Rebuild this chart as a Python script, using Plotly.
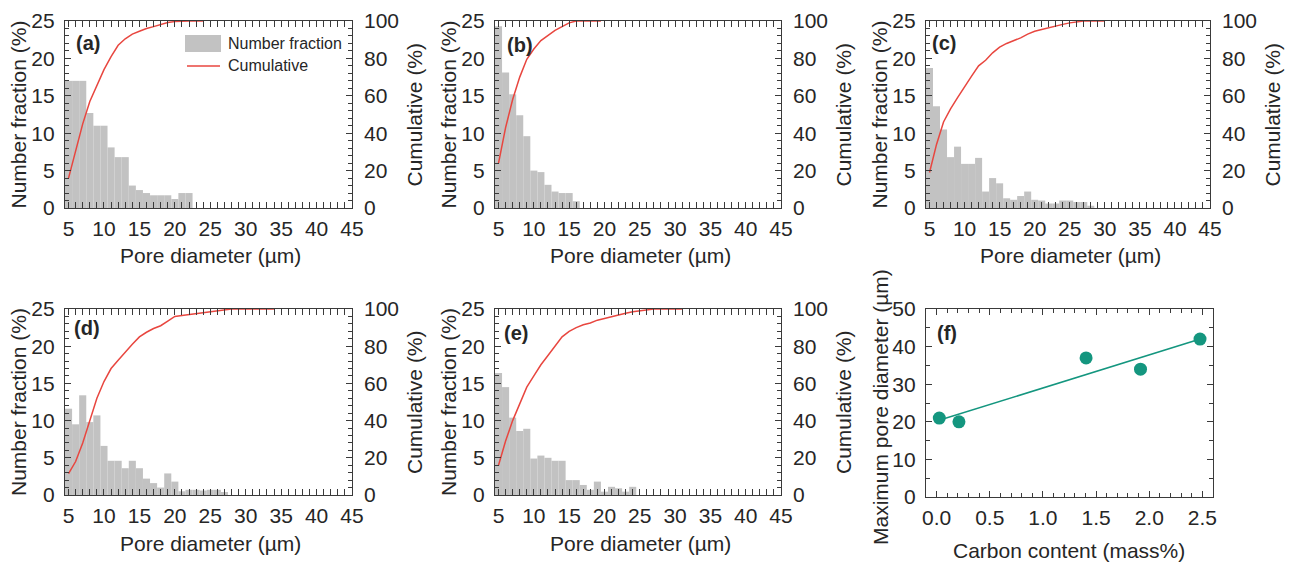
import plotly.graph_objects as go

# ---------------- data ----------------
# Number fraction (%) per 1-um bin, bins centred on 5, 6, 7, ... um
a_frac = [17.0, 17.0, 17.0, 12.7, 11.0, 11.0, 8.1, 6.8, 6.8, 3.0, 2.4, 2.0, 1.7, 1.7, 1.7, 1.2, 2.0, 2.0]
b_frac = [24.3, 18.1, 15.2, 12.4, 9.6, 5.0, 4.8, 3.1, 2.2, 2.0, 2.0, 0.9]
c_frac = [18.7, 13.6, 10.5, 6.8, 8.2, 5.9, 5.9, 6.7, 2.2, 4.0, 3.3, 1.3, 1.1, 1.6, 2.2, 1.1, 1.0,
          0.6, 0.6, 1.0, 1.0, 0.8, 0.8, 0.3]
d_frac = [11.6, 9.5, 13.4, 9.8, 10.7, 6.6, 4.6, 4.6, 3.6, 4.6, 3.6, 2.2, 1.6, 1.0, 2.9, 1.8,
          0.5, 0.7, 0.7, 0.6, 0.7, 0.7, 0.4]
e_frac = [16.4, 14.5, 10.4, 8.6, 8.9, 4.9, 5.3, 5.0, 4.6, 4.6, 2.0, 2.0, 1.35, 0.7, 1.8, 0.45,
          1.1, 0.9, 0.45, 1.1]

# Cumulative (%) curves, x positions in um
a_cum_x = [5, 6, 7, 8, 9, 10, 11, 12, 13, 14, 15, 16, 17, 18, 19, 20, 21, 22, 24]
a_cum = [16, 30, 45, 57, 66, 74, 81, 87, 90.5, 93, 94.5, 96, 97, 98.2, 99.2, 99.7, 100, 100, 100]
b_cum_x = [5, 6, 7, 8, 9, 10, 11, 12, 13, 14, 15, 16, 19.5]
b_cum = [24, 43, 58, 70, 79.5, 85, 89.5, 92.5, 95, 97, 99, 100, 100]
c_cum_x = [5, 6, 7, 8, 9, 10, 11, 12, 13, 14, 15, 16, 17, 18, 19, 20, 21, 22, 23, 24, 25, 26, 27, 30]
c_cum = [19, 34, 46, 53, 59, 65, 70.5, 76, 79, 83, 86, 88, 89.5, 91, 93, 94.5, 95.5, 96.5, 97.3,
         98.2, 99, 99.6, 100, 100]
d_cum_x = [5, 6, 7, 8, 9, 10, 11, 12, 13, 14, 15, 16, 17, 18, 19, 20, 21, 22, 23, 24, 25, 26, 27, 28, 34]
d_cum = [11.5, 18, 28, 40, 52, 61, 68, 72.5, 77, 81, 85, 87.5, 89.5, 91, 93.5, 96, 96.5, 97, 97.5,
         98, 98.7, 99.2, 99.6, 100, 100]
e_cum_x = [5, 6, 7, 8, 9, 10, 11, 12, 13, 14, 15, 16, 17, 18, 19, 20, 21, 22, 23, 24, 25, 26, 27, 31]
e_cum = [16, 29, 40, 49, 58, 64, 70, 75, 80, 85, 88, 90, 91.5, 92.5, 94, 95, 96, 97, 97.7, 98.5,
         99, 99.5, 100, 100]

# Panel (f)
carbon = [0.025, 0.21, 1.406, 1.918, 2.478]
max_pore = [21.0, 20.0, 37.0, 34.0, 42.0]
fit_x = [0.0, 2.48]
fit_y = [20.2, 42.0]

panel_labels = ["(a)", "(b)", "(c)", "(d)", "(e)", "(f)"]

# ---------------- styling ----------------
W, H = 1293, 564
OFF = 8  # page body margin: window pixel -> figure pixel
GREY = "#c2c2c2"
RED = "#e8463f"
TEAL = "#14967f"
FRAME = "#3a3a3a"
TXT = "#262626"
FONT = "Liberation Sans, Arial, sans-serif"
FS = 21

# frames in window pixels: left, right, top, bottom
frames = [
    (65, 352, 21, 208),
    (495, 781, 21, 208),
    (926, 1210, 21, 208),
    (65, 352, 309, 495),
    (495, 781, 309, 495),
    (926, 1213, 309, 497),
]


def px(x):
    return (x - OFF) / W


def py(y):
    return 1 - (y - OFF) / H


def dx(l, r):
    return [px(l), px(r)]


def dy(t, b):
    return [py(b), py(t)]


common = dict(
    showline=True, linecolor=FRAME, linewidth=1.3, mirror="allticks", automargin=False,
    showgrid=False, zeroline=False, ticks="inside", ticklen=6, tickwidth=1.2,
    tickcolor=FRAME, tickfont=dict(family=FONT, size=FS, color=TXT),
)

fig = go.Figure()
layout = dict(
    width=W, height=H, margin=dict(l=0, r=0, t=0, b=0, autoexpand=False),
    paper_bgcolor="white", plot_bgcolor="white", showlegend=False,
    font=dict(family=FONT, size=FS, color=TXT),
)

fracs = [a_frac, b_frac, c_frac, d_frac, e_frac]
cums = [(a_cum_x, a_cum), (b_cum_x, b_cum), (c_cum_x, c_cum), (d_cum_x, d_cum), (e_cum_x, e_cum)]

annotations = []


def ann(text, x, y, size=FS, angle=0, xanchor="center", bold=False):
    annotations.append(dict(text=f"<b>{text}</b>" if bold else text, x=px(x), y=py(y),
                            xref="paper", yref="paper", textangle=angle, showarrow=False,
                            xanchor=xanchor, yanchor="middle", font=dict(size=size, color=TXT)))


for i in range(5):
    n = i + 1
    xa = "x" if n == 1 else f"x{n}"
    ya = "y" if n == 1 else f"y{n}"
    yr = f"y{n + 5}"
    l, r, t, b = frames[i]
    frac = fracs[i]
    centers = [5 + k for k in range(len(frac))]
    fig.add_trace(go.Bar(x=centers, y=frac, width=1.0, marker=dict(color=GREY, line=dict(width=0)),
                         xaxis=xa, yaxis=ya, name="Number fraction"))
    cx, cy = cums[i]
    fig.add_trace(go.Scatter(x=cx, y=cy, mode="lines", line=dict(color=RED, width=1.5),
                             xaxis=xa, yaxis=yr, name="Cumulative"))
    layout["xaxis" if n == 1 else f"xaxis{n}"] = dict(
        common, domain=dx(l, r), anchor=ya, range=[4.5, 45], tick0=5, dtick=5,
        ticklabelstandoff=2,
        minor=dict(ticks="inside", dtick=1, tick0=0, ticklen=3.5, tickwidth=1, tickcolor=FRAME),
    )
    layout["yaxis" if n == 1 else f"yaxis{n}"] = dict(
        common, domain=dy(t, b), anchor=xa, range=[0, 25], tick0=0, dtick=5,
        ticklabelstandoff=5,
        minor=dict(ticks="inside", dtick=1, tick0=0, ticklen=3.5, tickwidth=1, tickcolor=FRAME),
    )
    layout[f"yaxis{n + 5}"] = dict(
        showline=False, showgrid=False, zeroline=False, ticks="inside", ticklen=6, automargin=False,
        tickwidth=1.2, tickcolor=FRAME, tickfont=dict(family=FONT, size=FS, color=TXT),
        domain=dy(t, b), anchor=xa, overlaying=ya, side="right", range=[0, 100],
        tick0=0, dtick=20, ticklabelstandoff=11,
        minor=dict(ticks="inside", dtick=4, tick0=0, ticklen=3.5, tickwidth=1, tickcolor=FRAME),
    )
    cy_mid = (t + b) / 2
    ann("Number fraction (%)", l - 47, cy_mid, angle=-90)
    ann("Cumulative (%)", r + 62, cy_mid, angle=-90)
    ann("Pore diameter (µm)", (l + r) / 2 + 2, b + 48)

# Panel (f)
l, r, t, b = frames[5]
fig.add_trace(go.Scatter(x=fit_x, y=fit_y, mode="lines", line=dict(color=TEAL, width=1.5),
                         xaxis="x6", yaxis="y11"))
fig.add_trace(go.Scatter(x=carbon, y=max_pore, mode="markers",
                         marker=dict(color=TEAL, size=13, line=dict(width=0)),
                         xaxis="x6", yaxis="y11", cliponaxis=False))
layout["xaxis6"] = dict(
    common, domain=dx(l, r), anchor="y11", range=[-0.1, 2.6], tick0=0, dtick=0.5,
    tickformat=".1f", ticklabelstandoff=2,
    minor=dict(ticks="inside", dtick=0.1, tick0=0, ticklen=3.5, tickwidth=1, tickcolor=FRAME),
)
layout["yaxis11"] = dict(
    common, domain=dy(t, b), anchor="x6", range=[0, 50], tick0=0, dtick=10,
    ticklabelstandoff=5,
    minor=dict(ticks="inside", dtick=5, tick0=0, ticklen=3.5, tickwidth=1, tickcolor=FRAME),
)
ann("Maximum pore diameter (µm)", l - 46, (t + b) / 2 + 4, angle=-90)
ann("Carbon content (mass%)", (l + r) / 2 - 1, b + 53)

# panel labels
label_pos = [(74, 43), (505, 45), (930, 43), (72, 328), (502, 333), (935, 333)]
for lab, (lx, ly) in zip(panel_labels, label_pos):
    ann(lab, lx, ly, size=20, xanchor="left", bold=True)

# legend of panel (a)
shapes = [
    dict(type="rect", xref="paper", yref="paper", x0=px(185), x1=px(221), y0=py(52), y1=py(35),
         fillcolor=GREY, line=dict(width=0)),
    dict(type="line", xref="paper", yref="paper", x0=px(187), x1=px(220), y0=py(66), y1=py(66),
         line=dict(color=RED, width=1.5)),
]
ann("Number fraction", 226, 44, size=16, xanchor="left")
ann("Cumulative", 226, 66, size=16, xanchor="left")

layout["annotations"] = annotations
layout["shapes"] = shapes
fig.update_layout(**layout)
fig.write_html("out.html")
